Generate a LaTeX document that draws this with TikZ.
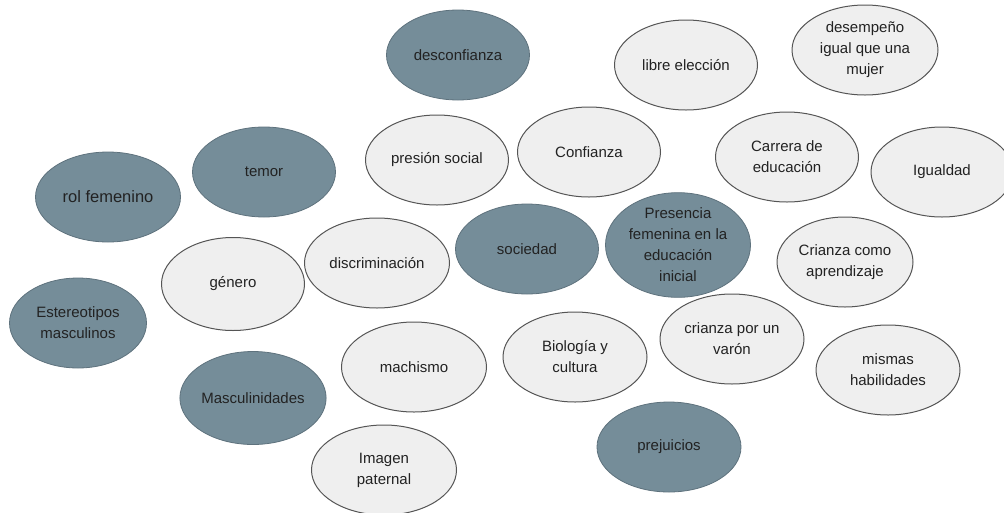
\documentclass[tikz,border=0pt]{standalone}
\usepackage{fontspec}
\setmainfont{Liberation Sans}
\usetikzlibrary{shapes.geometric}

\definecolor{slate}{HTML}{758D99}
\definecolor{slateedge}{HTML}{5E727D}
\definecolor{pale}{HTML}{EFEFEF}
\definecolor{paleedge}{HTML}{555555}
\definecolor{ink}{HTML}{222222}

\tikzset{
  bubble/.style={ellipse, minimum width=143pt, minimum height=90pt, inner sep=0pt,
    align=center, text=ink, font=\fontsize{15}{21}\selectfont},
  darkbub/.style={bubble, fill=slate, draw=slateedge, line width=0.8pt},
  lightbub/.style={bubble, fill=pale, draw=paleedge, line width=1pt}
}

\begin{document}
\begin{tikzpicture}[x=1pt, y=-1pt]
      \useasboundingbox (0,0) rectangle (1004,512);

      % top row
      \draw (458, 55) node [darkbub] (desconfianza) {desconfianza};
      \draw (686, 65) node [lightbub] (libre) {libre elección};
      \draw (865, 50) node [lightbub, minimum width=146pt] (desempeno) {desempeño\\igual que una\\mujer};

      % second row
      \draw (108, 197) node [darkbub, minimum width=145pt, font=\fontsize{16.5}{21}\selectfont] (rol) {rol femenino};
      \draw (264, 172) node [darkbub] (temor) {temor};
      \draw (437, 160) node [lightbub] (presion) {presión social};
      \draw (589, 152) node [lightbub] (confianza) {Confianza};
      \draw (787, 157) node [lightbub] (carrera) {Carrera de\\educación};
      \draw (942, 172) node [lightbub, minimum width=142pt] (igualdad) {Igualdad};

      % middle row
      \draw (233, 284) node [lightbub, minimum height=93pt] (genero) {género};
      \draw (377, 263) node [lightbub, minimum width=145pt] (discriminacion) {discriminación};
      \draw (527, 249) node [darkbub] (sociedad) {sociedad};
      \draw (678, 245) node [darkbub, minimum width=145pt, minimum height=92pt] (presencia) {Presencia\\femenina en la\\educación\\inicial};
      \draw (845, 262) node [lightbub, minimum width=136pt] (crianza) {Crianza como\\aprendizaje};

      % lower rows
      \draw (78, 323) node [darkbub, minimum width=137pt] (estereotipos) {Estereotipos\\masculinos};
      \draw (414, 367) node [lightbub, minimum width=145pt] (machismo) {machismo};
      \draw (575, 357) node [lightbub, minimum width=144pt] (biologia) {Biología y\\cultura};
      \draw (732, 339) node [lightbub, minimum width=144pt] (varon) {crianza por un\\varón};
      \draw (888, 370) node [lightbub, minimum width=144pt] (mismas) {mismas\\habilidades};
      \draw (253, 398) node [darkbub, minimum width=146pt, minimum height=93pt] (masculinidades) {Masculinidades};
      \draw (384, 470) node [lightbub, minimum width=145pt] (imagen) {Imagen\\paternal};
      \draw (669, 447) node [darkbub, minimum width=144pt] (prejuicios) {prejuicios};
\end{tikzpicture}
\end{document}
